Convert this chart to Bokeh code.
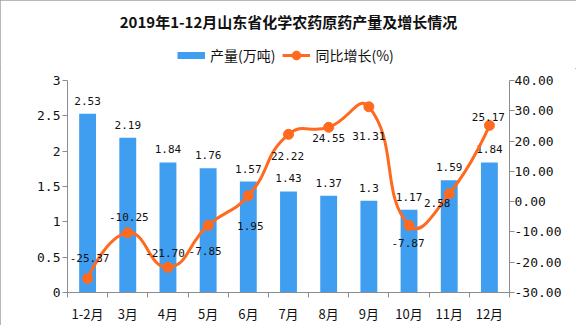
from bokeh.plotting import figure
from bokeh.layouts import column
from bokeh.models import Range1d, LinearAxis, FixedTicker, Legend, LegendItem
from bokeh.core.properties import value
from bokeh.embed import file_html
from bokeh.resources import INLINE
import math

# ---- data ----
months = ["1-2月", "3月", "4月", "5月", "6月", "7月", "8月", "9月", "10月", "11月", "12月"]
output = [2.53, 2.19, 1.84, 1.76, 1.57, 1.43, 1.37, 1.3, 1.17, 1.59, 1.84]
growth = [-25.37, -10.25, -21.70, -7.85, 1.95, 22.22, 24.55, 31.31, -7.87, 2.58, 25.17]
left_ticks = [0, 0.5, 1, 1.5, 2, 2.5, 3]
left_tick_labels = ["0", "0.5", "1", "1.5", "2", "2.5", "3"]
right_ticks = [-30, -20, -10, 0, 10, 20, 30, 40]
right_tick_labels = ["-30.00", "-20.00", "-10.00", "0.00", "10.00", "20.00", "30.00", "40.00"]
title_text = "2019年1-12月山东省化学农药原药产量及增长情况"
bar_name = "产量(万吨)"
line_name = "同比增长(%)"

# ---- style ----
BLUE = "#409ef0"
ORANGE = "#ff6a1f"
AXIS = "#8c8c8c"
NUM_FONT = "DejaVu Sans Mono"
CJK_FONT = "Noto Sans CJK SC"
# label offsets (pixels) for the line's value labels
line_label_dx = [2, 1, -3, -3, 2, -1, 0, 0, -1, -12, -1]
line_label_dy = [-20, -16, -14, 26, 30, 22, 11, 29, 18, 9, -8]

n = len(months)
xs = list(range(n))
output_labels = [str(v) for v in output]
growth_labels = ["%.2f" % v for v in growth]

W, H = 576, 325
HEAD = 68
ML, MR, MT, MB = 67, 67, 80, 33
fw, fh = W - ML - MR, H - MT - MB

# ---------- main chart ----------
p = figure(width=W, height=H - HEAD, title=None,
           x_range=Range1d(-0.5, n - 0.5), y_range=Range1d(left_ticks[0], left_ticks[-1]),
           x_axis_location=None, y_axis_location=None,
           output_backend="svg", toolbar_location=None,
           min_border_left=ML, min_border_right=MR, min_border_top=MT - HEAD, min_border_bottom=MB)
p.extra_y_ranges = {"pct": Range1d(right_ticks[0], right_ticks[-1])}
p.grid.visible = False
p.outline_line_color = None
p.background_fill_color = "white"
p.border_fill_color = "white"


def style_axis(ax, size="13px"):
    ax.axis_line_color = AXIS
    ax.major_tick_line_color = AXIS
    ax.minor_tick_line_color = None
    ax.major_tick_in = 0
    ax.major_tick_out = 5
    ax.major_label_text_font = NUM_FONT
    ax.major_label_text_font_size = size
    ax.major_label_text_color = "#111111"
    ax.major_label_standoff = 2


yl = LinearAxis(ticker=FixedTicker(ticks=left_ticks),
                major_label_overrides=dict(zip(left_ticks, left_tick_labels)))
style_axis(yl)
p.add_layout(yl, "left")

yr = LinearAxis(y_range_name="pct", ticker=FixedTicker(ticks=right_ticks),
                major_label_overrides=dict(zip(right_ticks, right_tick_labels)))
style_axis(yr)
yr.major_label_standoff = 0
p.add_layout(yr, "right")

# category axis: labels at the centres, tick marks at the band edges (minor ticks)
xl = LinearAxis(ticker=FixedTicker(ticks=xs, minor_ticks=[i - 0.5 for i in range(n + 1)]),
                major_label_overrides=dict(zip(xs, months)))
style_axis(xl)
xl.major_tick_line_color = None
xl.major_tick_out = 0
xl.minor_tick_line_color = AXIS
xl.minor_tick_in = 0
xl.minor_tick_out = 5
xl.major_label_standoff = 6
xl.major_label_text_font = CJK_FONT
p.add_layout(xl, "below")

# bars
bars = p.vbar(x=xs, top=output, width=0.42, fill_color=BLUE, line_color=None)
p.text(x=xs, y=output, text=output_labels, y_offset=-13, text_align="center", text_baseline="middle",
       text_font=value(NUM_FONT), text_font_size="11px", text_color="#111111")

# smooth line (bezier segments, control points computed from the data points)
sx = fw / n
sy = fh / (right_ticks[-1] - right_ticks[0])
P = [(x * sx, g * sy) for x, g in zip(xs, growth)]
smooth = 0.5
cps = []
for i in range(n):
    if i == 0 or i == n - 1:
        cps.append((P[i], P[i]))
        continue
    pr, cu, nx = P[i - 1], P[i], P[i + 1]
    vx, vy = (nx[0] - pr[0]) * smooth, (nx[1] - pr[1]) * smooth
    d0 = math.hypot(cu[0] - pr[0], cu[1] - pr[1])
    d1 = math.hypot(nx[0] - cu[0], nx[1] - cu[1])
    s = d0 + d1
    r0, r1 = d0 / s, d1 / s
    cps.append(((cu[0] - vx * r0, cu[1] - vy * r0), (cu[0] + vx * r1, cu[1] + vy * r1)))
cx0 = [cps[i][1][0] / sx for i in range(n - 1)]
cy0 = [cps[i][1][1] / sy for i in range(n - 1)]
cx1 = [cps[i + 1][0][0] / sx for i in range(n - 1)]
cy1 = [cps[i + 1][0][1] / sy for i in range(n - 1)]
curve = p.bezier(x0=xs[:-1], y0=growth[:-1], x1=xs[1:], y1=growth[1:],
                 cx0=cx0, cy0=cy0, cx1=cx1, cy1=cy1,
                 y_range_name="pct", line_color=ORANGE, line_width=3)
dots = p.scatter(x=xs, y=growth, size=10, fill_color=ORANGE, line_color=ORANGE, y_range_name="pct")
p.text(x=xs, y=growth, text=growth_labels, x_offset=line_label_dx, y_offset=line_label_dy,
       y_range_name="pct", text_align="center", text_baseline="middle",
       text_font=value(NUM_FONT), text_font_size="11px", text_color="#111111")

# ---------- header: title + legend ----------
h = figure(width=W, height=HEAD, x_range=Range1d(0, 1), y_range=Range1d(0, 1),
           x_axis_location=None, y_axis_location=None,
           output_backend="svg", toolbar_location=None, min_border=0, min_border_top=31)
h.grid.visible = False
h.outline_line_color = None
h.background_fill_color = "white"
h.border_fill_color = "white"
h.title.text = title_text
h.title.align = "center"
h.title.text_font = CJK_FONT
h.title.text_font_style = "bold"
h.title.text_font_size = "15px"
h.title.text_color = "#111111"
h.title.offset = -3
h.title.standoff = 0

# legend keys: hidden renderers (same data) that only provide the legend swatches
bar_key = h.line(x=xs, y=output, line_color=BLUE, line_width=7, line_cap="butt", visible=False)
line_key = h.line(x=xs, y=growth, line_color=ORANGE, line_width=3, visible=False)
dot_key = h.scatter(x=xs, y=growth, size=10, fill_color=ORANGE, line_color=ORANGE, visible=False)
leg = Legend(items=[LegendItem(label=bar_name, renderers=[bar_key]),
                    LegendItem(label=line_name, renderers=[line_key, dot_key])],
             location=(177 - ML, 2), orientation="horizontal",
             glyph_width=28, glyph_height=22, label_height=22, label_standoff=5, spacing=7,
             padding=0, margin=0, border_line_color=None, background_fill_alpha=0,
             label_text_font=CJK_FONT, label_text_font_size="14px", label_text_color="#111111")
h.add_layout(leg, "center")

layout = column(h, p, spacing=0)
layout.styles = {"outline": "1px solid #a0a0a0", "outline-offset": "-1px"}

open("out.html", "w").write(file_html(layout, INLINE))
